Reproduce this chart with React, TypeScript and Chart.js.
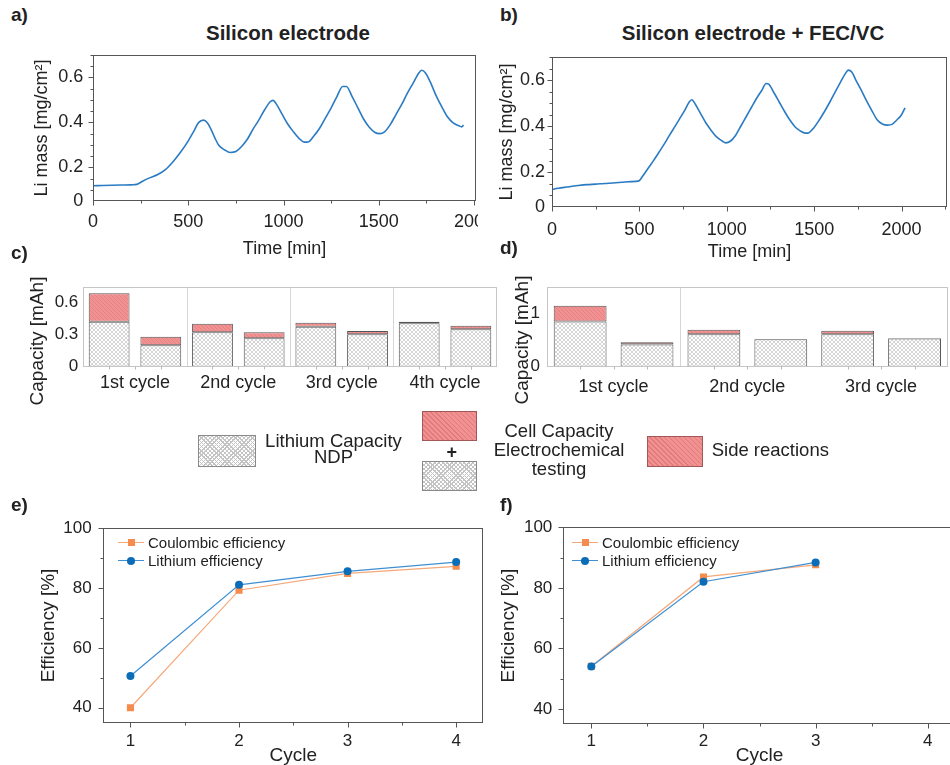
import React, { useEffect, useRef } from "react";
import { Chart, registerables } from "chart.js";

Chart.register(...registerables);

const FONT = "'Liberation Sans', Arial, Helvetica, sans-serif";
Chart.defaults.font.family = FONT;
Chart.defaults.color = "#222";

// ---------------- data ----------------
// a) Silicon electrode: Li mass vs time
const timeA = [
  0, 50, 100, 150, 200, 230, 260, 300, 340, 380,
  420, 460, 500, 530, 555, 580, 600, 620, 640, 660,
  690, 720, 750, 780, 810, 840, 870, 900, 930, 945,
  965, 990, 1020, 1050, 1080, 1110, 1130, 1160, 1190, 1220,
  1250, 1280, 1310, 1330, 1360, 1390, 1420, 1450, 1480, 1505,
  1530, 1560, 1590, 1620, 1650, 1680, 1710, 1725, 1745, 1770,
  1800, 1830, 1860, 1890, 1920, 1935, 1945,
];
const liMassA = [
  0.118, 0.119, 0.12, 0.121, 0.122, 0.124, 0.138, 0.154, 0.168, 0.19,
  0.225, 0.268, 0.318, 0.362, 0.4, 0.41, 0.398, 0.368, 0.33, 0.298,
  0.278, 0.266, 0.27, 0.293, 0.325, 0.37, 0.41, 0.455, 0.492, 0.498,
  0.478, 0.44, 0.395, 0.36, 0.33, 0.312, 0.313, 0.34, 0.375, 0.42,
  0.465, 0.515, 0.56, 0.56, 0.515, 0.465, 0.415, 0.378, 0.355, 0.35,
  0.358, 0.39, 0.435, 0.48, 0.53, 0.575, 0.62, 0.632, 0.62, 0.58,
  0.52, 0.47, 0.425, 0.398, 0.385, 0.38, 0.388,
];

// b) Silicon electrode + FEC/VC
const timeB = [
  0, 25, 60, 100, 150, 200, 250, 300, 350, 400,
  450, 495, 520, 550, 580, 610, 640, 670, 700, 730,
  760, 785, 800, 820, 850, 880, 910, 940, 970, 995,
  1020, 1050, 1080, 1110, 1140, 1170, 1200, 1225, 1240, 1270,
  1300, 1330, 1360, 1390, 1420, 1450, 1470, 1500, 1530, 1560,
  1590, 1620, 1650, 1680, 1695, 1715, 1740, 1770, 1800, 1830,
  1860, 1890, 1920, 1945, 1970, 2000, 2020,
];
const liMassB = [
  0.125, 0.13, 0.134, 0.138, 0.143, 0.147, 0.149, 0.152, 0.154, 0.157,
  0.16, 0.162, 0.185, 0.218, 0.25, 0.285, 0.32, 0.358, 0.395, 0.432,
  0.47, 0.505, 0.515, 0.495, 0.455, 0.415, 0.383, 0.355, 0.338, 0.328,
  0.335, 0.36, 0.4, 0.44, 0.48, 0.52, 0.555, 0.585, 0.582, 0.545,
  0.505, 0.465, 0.428, 0.398, 0.38, 0.37, 0.372, 0.395, 0.428, 0.465,
  0.505, 0.548, 0.59, 0.63, 0.643, 0.635, 0.598, 0.555, 0.51, 0.468,
  0.428, 0.41, 0.405, 0.408, 0.425, 0.45, 0.48,
];
const massTicks = [0.05, 0.2, 0.4, 0.6]; // 0.05 is the axis bottom, labelled "0"
const massMinor = [0.1, 0.15, 0.25, 0.3, 0.35, 0.45, 0.5, 0.55, 0.65, 0.7];
const timeTicks = [0, 500, 1000, 1500, 2000];
const timeMinor = [250, 750, 1250, 1750, 2250];

// c) capacities, Silicon electrode
const cycleLabelsC = ["1st cycle", "2nd cycle", "3rd cycle", "4th cycle"];
const liCapLithC = [0.42, 0.32, 0.373, 0.405];
const cellCapLithC = [0.685, 0.4, 0.41, 0.42];
const liCapDelithC = [0.2, 0.265, 0.302, 0.348];
const cellCapDelithC = [0.28, 0.32, 0.333, 0.382];
const capTicksC = [0, 0.3, 0.6];

// d) capacities, Silicon electrode + FEC/VC
const cycleLabelsD = ["1st cycle", "2nd cycle", "3rd cycle"];
const liCapLithD = [0.855, 0.615, 0.615];
const cellCapLithD = [1.15, 0.7, 0.677];
const liCapDelithD = [0.42, 0.52, 0.535];
const cellCapDelithD = [0.46, 0.525, 0.54];
const capTicksD = [0, 1];

// e) / f) efficiencies
const cyclesE = [1, 2, 3, 4];
const coulombicE = [40, 79.3, 84.9, 87.3];
const lithiumE = [50.6, 81.1, 85.6, 88.7];
const cyclesF = [1, 2, 3];
const coulombicF = [54.1, 83.6, 87.6];
const lithiumF = [54.0, 82.0, 88.4];
const effTicks = [40, 60, 80, 100];
const effMinor = [50, 70, 90];
const cycleTicks = [1, 2, 3, 4];
const cycleMinor = [1.5, 2.5, 3.5];

const legendEff = ["Coulombic efficiency", "Lithium efficiency"];

// ---------------- colours ----------------
const TRACE = "#2a7bc3";
const ORANGE_LINE = "#f5a878";
const ORANGE_PT = "#f58b4c";
const BLUE_LINE = "#3f8fd2";
const BLUE_PT = "#0b6cb8";
const AXIS = "#555";

// ---------------- helpers ----------------
function makeGrayPattern(): CanvasPattern | string {
  const c = document.createElement("canvas");
  c.width = 4;
  c.height = 4;
  const g = c.getContext("2d")!;
  g.fillStyle = "#ffffff";
  g.fillRect(0, 0, 4, 4);
  g.strokeStyle = "#c2c2c2";
  g.lineWidth = 0.7;
  g.beginPath();
  g.moveTo(0, 0);
  g.lineTo(4, 4);
  g.moveTo(0, 4);
  g.lineTo(4, 0);
  g.stroke();
  return g.createPattern(c, "repeat") || "#e5e5e5";
}

function makeRedPattern(): CanvasPattern | string {
  const c = document.createElement("canvas");
  c.width = 4;
  c.height = 4;
  const g = c.getContext("2d")!;
  g.fillStyle = "#f29191";
  g.fillRect(0, 0, 4, 4);
  g.strokeStyle = "#e07b7b";
  g.lineWidth = 0.7;
  g.beginPath();
  g.moveTo(0, 0);
  g.lineTo(4, 4);
  g.moveTo(-1, 3);
  g.lineTo(1, 5);
  g.moveTo(3, -1);
  g.lineTo(5, 1);
  g.stroke();
  return g.createPattern(c, "repeat") || "#f29191";
}

const fixW = (w: number) => (scale: any) => {
  scale.width = w;
  scale.paddingLeft = scale.paddingRight = scale.paddingTop = scale.paddingBottom = 0;
};
const fixH = (h: number) => (scale: any) => {
  scale.height = h;
  scale.paddingLeft = scale.paddingRight = scale.paddingTop = scale.paddingBottom = 0;
};
const setTicks = (vals: number[]) => (scale: any) => {
  scale.ticks = vals.map((v) => ({ value: v }));
};
const NO_GRID = { display: false, drawTicks: false, tickLength: 0 };

type FrameCfg = {
  color: string;
  xMajor?: number[];
  xMinor?: number[];
  yMajor?: number[];
  yMinor?: number[];
  majorLen?: number;
  minorLen?: number;
  separators?: number[];
  sepColor?: string;
  barTicks?: boolean;
};

function framePlugin(cfg: FrameCfg) {
  return {
    id: "frame",
    beforeDatasetsDraw(chart: any) {
      if (!cfg.separators) return;
      const { ctx, chartArea: a } = chart;
      const xs = chart.scales.x;
      ctx.save();
      ctx.strokeStyle = cfg.sepColor || "#ddd";
      ctx.lineWidth = 1;
      for (const i of cfg.separators) {
        const px = Math.round((xs.getPixelForValue(i) + xs.getPixelForValue(i + 1)) / 2) + 0.5;
        ctx.beginPath();
        ctx.moveTo(px, a.top);
        ctx.lineTo(px, a.bottom);
        ctx.stroke();
      }
      ctx.restore();
    },
    afterDraw(chart: any) {
      const { ctx, chartArea: a } = chart;
      const xs = chart.scales.x;
      const ys = chart.scales.y;
      const L = Math.round(a.left) + 0.5;
      const R = Math.round(a.right) - 0.5;
      const T = Math.round(a.top) + 0.5;
      const B = Math.round(a.bottom) - 0.5;
      ctx.save();
      ctx.lineWidth = 1;
      ctx.strokeStyle = cfg.color;
      ctx.strokeRect(L, T, R - L, B - T);
      const maj = cfg.majorLen ?? 5;
      const min = cfg.minorLen ?? 3;
      const xt = (vals: number[] | undefined, len: number) => {
        (vals || []).forEach((v) => {
          const p = Math.round(xs.getPixelForValue(v)) + 0.5;
          ctx.beginPath();
          ctx.moveTo(p, B);
          ctx.lineTo(p, B + len);
          ctx.stroke();
        });
      };
      const yt = (vals: number[] | undefined, len: number) => {
        (vals || []).forEach((v) => {
          const p = Math.round(ys.getPixelForValue(v)) + 0.5;
          ctx.beginPath();
          ctx.moveTo(L, p);
          ctx.lineTo(L - len, p);
          ctx.stroke();
        });
      };
      xt(cfg.xMajor, maj);
      xt(cfg.xMinor, min);
      yt(cfg.yMajor, maj);
      yt(cfg.yMinor, min);
      if (cfg.barTicks) {
        ctx.strokeStyle = "#b8b8b8";
        const xsPix: number[] = [];
        [0, 2].forEach((k) => {
          chart.getDatasetMeta(k).data.forEach((el: any) => xsPix.push(el.x));
        });
        xs.ticks.forEach((_t: any, i: number) => xsPix.push(xs.getPixelForValue(i)));
        xsPix.forEach((x) => {
          const p = Math.round(x) + 0.5;
          ctx.beginPath();
          ctx.moveTo(p, B);
          ctx.lineTo(p, B + 3);
          ctx.stroke();
        });
      }
      ctx.restore();
    },
  };
}

function ChartBox(props: { left: number; top: number; width: number; height: number; build: () => any }) {
  const ref = useRef<HTMLCanvasElement>(null);
  useEffect(() => {
    const chart = new Chart(ref.current as HTMLCanvasElement, props.build());
    return () => chart.destroy();
  }, []);
  return (
    <canvas
      ref={ref}
      width={props.width}
      height={props.height}
      style={{ position: "absolute", left: props.left, top: props.top, width: props.width, height: props.height }}
    />
  );
}

const baseOptions = (padding: any) => ({
  responsive: false,
  animation: false as const,
  layout: { padding, autoPadding: false },
  plugins: { legend: { display: false }, tooltip: { enabled: false } },
});

// ---------------- chart builders ----------------
function massChart(
  times: number[],
  values: number[],
  xMax: number,
  dims: { pad: any; yW: number; xH: number; yPad: number; yTitlePad: number; xPad: number }
) {
  return () => ({
    type: "line",
    data: {
      datasets: [
        {
          data: times.map((t, i) => ({ x: t, y: values[i] })),
          borderColor: TRACE,
          borderWidth: 1.6,
          pointRadius: 0,
          cubicInterpolationMode: "monotone",
          fill: false,
        },
      ],
    },
    options: {
      ...baseOptions(dims.pad),
      scales: {
        x: {
          type: "linear",
          min: 0,
          max: xMax,
          afterBuildTicks: setTicks(timeTicks),
          afterFit: fixH(dims.xH),
          grid: NO_GRID,
          border: { display: false },
          ticks: { font: { size: 18 }, color: "#222", padding: dims.xPad, maxRotation: 0, callback: (v: number) => String(v) },
          title: { display: true, text: "Time [min]", font: { size: 18 }, color: "#222", padding: { top: 0, bottom: 0 } },
        },
        y: {
          type: "linear",
          min: 0.05,
          max: 0.7,
          afterBuildTicks: setTicks(massTicks),
          afterFit: fixW(dims.yW),
          grid: NO_GRID,
          border: { display: false },
          ticks: {
            font: { size: 18 },
            color: "#222",
            padding: dims.yPad,
            callback: (v: number) => (v < 0.1 ? "0" : v.toFixed(1)),
          },
          title: {
            display: true,
            text: "Li mass [mg/cm²]",
            font: { size: 18 },
            color: "#222",
            padding: { top: dims.yTitlePad, bottom: 0 },
          },
        },
      },
    },
    plugins: [
      framePlugin({ color: AXIS, xMajor: timeTicks, xMinor: timeMinor, yMajor: massTicks.slice(1), yMinor: massMinor, majorLen: 5, minorLen: 3 }),
    ],
  });
}

function capChart(
  labels: string[],
  liL: number[],
  cellL: number[],
  liD: number[],
  cellD: number[],
  yMax: number,
  yTicks: number[],
  separators: number[],
  dims: { pad: any; yW: number; xH: number; yPad: number; xPad: number }
) {
  return () => {
    const gray = makeGrayPattern();
    const red = makeRedPattern();
    const common = { borderColor: "#555", borderWidth: 1, borderSkipped: false, barPercentage: 0.79, categoryPercentage: 1 };
    return {
      type: "bar",
      data: {
        labels,
        datasets: [
          { label: "Lithium Capacity NDP", data: liL, stack: "lith", backgroundColor: gray, ...common },
          { label: "Side reactions", data: cellL.map((v, i) => v - liL[i]), stack: "lith", backgroundColor: red, ...common },
          { label: "Lithium Capacity NDP", data: liD, stack: "delith", backgroundColor: gray, ...common },
          { label: "Side reactions", data: cellD.map((v, i) => v - liD[i]), stack: "delith", backgroundColor: red, ...common },
        ],
      },
      options: {
        ...baseOptions(dims.pad),
        scales: {
          x: {
            stacked: true,
            afterFit: fixH(dims.xH),
            grid: NO_GRID,
            border: { display: false },
            ticks: { font: { size: 18 }, color: "#222", padding: dims.xPad, maxRotation: 0, autoSkip: false },
          },
          y: {
            stacked: true,
            min: 0,
            max: yMax,
            afterBuildTicks: setTicks(yTicks),
            afterFit: fixW(dims.yW),
            grid: NO_GRID,
            border: { display: false },
            ticks: { font: { size: 17 }, color: "#222", padding: dims.yPad, callback: (v: number) => (v === 0 ? "0" : String(v)) },
          },
        },
      },
      plugins: [framePlugin({ color: "#c6c6c6", separators, sepColor: "#d6d6d6", barTicks: true })],
    };
  };
}

function effChart(
  cycles: number[],
  coul: number[],
  li: number[],
  dims: { pad: any; yW: number; xH: number; yPad: number; yTitlePad: number; xPad: number }
) {
  return () => ({
    type: "line",
    data: {
      datasets: [
        {
          label: legendEff[1],
          data: cycles.map((c, i) => ({ x: c, y: li[i] })),
          borderColor: BLUE_LINE,
          borderWidth: 1.2,
          pointStyle: "circle",
          pointRadius: 4,
          pointBackgroundColor: BLUE_PT,
          pointBorderColor: BLUE_PT,
          pointBorderWidth: 0,
        },
        {
          label: legendEff[0],
          data: cycles.map((c, i) => ({ x: c, y: coul[i] })),
          borderColor: ORANGE_LINE,
          borderWidth: 1.2,
          pointStyle: "rect",
          pointRadius: 5,
          pointBackgroundColor: ORANGE_PT,
          pointBorderColor: ORANGE_PT,
          pointBorderWidth: 0,
        },
      ],
    },
    options: {
      ...baseOptions(dims.pad),
      scales: {
        x: {
          type: "linear",
          min: 0.75,
          max: 4.25,
          afterBuildTicks: setTicks(cycleTicks),
          afterFit: fixH(dims.xH),
          grid: NO_GRID,
          border: { display: false },
          ticks: { font: { size: 17 }, color: "#222", padding: dims.xPad, callback: (v: number) => String(v) },
          title: { display: true, text: "Cycle", font: { size: 19, lineHeight: 1 }, color: "#222", padding: { top: 0, bottom: 0 } },
        },
        y: {
          type: "linear",
          min: 35,
          max: 100,
          afterBuildTicks: setTicks(effTicks),
          afterFit: fixW(dims.yW),
          grid: NO_GRID,
          border: { display: false },
          ticks: { font: { size: 17 }, color: "#222", padding: dims.yPad, callback: (v: number) => String(v) },
          title: {
            display: true,
            text: "Efficiency [%]",
            font: { size: 19 },
            color: "#222",
            padding: { top: dims.yTitlePad, bottom: 0 },
          },
        },
      },
    },
    plugins: [framePlugin({ color: AXIS, xMajor: cycleTicks, xMinor: cycleMinor, yMajor: effTicks, yMinor: effMinor, majorLen: 5, minorLen: 3 })],
  });
}

// ---------------- HTML bits ----------------
const abs = (left: number, top: number, extra: any = {}) => ({ position: "absolute" as const, left, top, ...extra });

function PanelLetter({ x, cy, text }: { x: number; cy: number; text: string }) {
  return <div style={abs(x, cy - 11, { fontSize: 19, fontWeight: "bold", lineHeight: "22px" })}>{text}</div>;
}

function Title({ cx, cy, text }: { cx: number; cy: number; text: string }) {
  return (
    <div style={abs(cx, cy, { transform: "translate(-50%,-50%)", fontSize: 20.5, fontWeight: "bold", whiteSpace: "nowrap", lineHeight: "24px" })}>
      {text}
    </div>
  );
}

function VTitle({ cx, cy, text, size }: { cx: number; cy: number; text: string; size: number }) {
  return (
    <div style={abs(cx, cy, { transform: "translate(-50%,-50%) rotate(-90deg)", fontSize: size, whiteSpace: "nowrap", lineHeight: "22px" })}>
      {text}
    </div>
  );
}

const grayCss = {
  backgroundColor: "#fff",
  backgroundImage:
    "repeating-linear-gradient(45deg, #c4c4c4 0 1px, transparent 1px 3px), repeating-linear-gradient(-45deg, #c4c4c4 0 1px, transparent 1px 3px)",
  border: "1px solid #8a8a8a",
  boxSizing: "border-box" as const,
};
const redCss = {
  backgroundColor: "#f29191",
  backgroundImage: "repeating-linear-gradient(45deg, #e07b7b 0 1px, transparent 1px 3.5px)",
  border: "1px solid #a05858",
  boxSizing: "border-box" as const,
};

function EffLegend({ lineLeft, textLeft, y1, y2 }: { lineLeft: number; textLeft: number; y1: number; y2: number }) {
  const lw = 26;
  const rows = [
    { cy: y1, line: ORANGE_LINE, pt: ORANGE_PT, round: false, text: legendEff[0] },
    { cy: y2, line: BLUE_LINE, pt: BLUE_PT, round: true, text: legendEff[1] },
  ];
  return (
    <>
      {rows.map((r, i) => (
        <React.Fragment key={i}>
          <div style={abs(lineLeft, r.cy - 0.5, { width: lw, height: 1, background: r.line })} />
          <div
            style={abs(lineLeft + lw / 2 - (r.round ? 4 : 3.5), r.cy - (r.round ? 4 : 3.5), {
              width: r.round ? 8 : 7,
              height: r.round ? 8 : 7,
              background: r.pt,
              borderRadius: r.round ? "50%" : 0,
            })}
          />
          <div style={abs(textLeft, r.cy - 9, { fontSize: 15, lineHeight: "18px", whiteSpace: "nowrap" })}>{r.text}</div>
        </React.Fragment>
      ))}
    </>
  );
}

export default function App() {
  return (
    <div
      style={{
        position: "absolute",
        left: 0,
        top: 0,
        width: 950,
        height: 765,
        overflow: "hidden",
        background: "#fff",
        fontFamily: FONT,
        color: "#222",
      }}
    >
      {/* a */}
      <ChartBox
        left={0}
        top={45}
        width={478}
        height={215}
        build={massChart(timeA, liMassA, 2010, { pad: { top: 10, right: 2, left: 0, bottom: 0 }, yW: 93, xH: 59, yPad: 9.7, yTitlePad: 31.5, xPad: 9.9 })}
      />
      {/* b */}
      <ChartBox
        left={478}
        top={45}
        width={472}
        height={218}
        build={massChart(timeB, liMassB, 2260, { pad: { top: 12, right: 3, left: 0, bottom: 0 }, yW: 74, xH: 56, yPad: 7, yTitlePad: 17.9, xPad: 12.2 })}
      />
      {/* c */}
      <ChartBox
        left={0}
        top={280}
        width={500}
        height={120}
        build={capChart(cycleLabelsC, liCapLithC, cellCapLithC, liCapDelithC, cellCapDelithC, 0.74, capTicksC, [0, 1, 2], {
          pad: { top: 7.3, right: 3.3, left: 0, bottom: 0 },
          yW: 83.3,
          xH: 33.3,
          yPad: 5,
          xPad: 6,
        })}
      />
      {/* d */}
      <ChartBox
        left={500}
        top={280}
        width={450}
        height={120}
        build={capChart(cycleLabelsD, liCapLithD, cellCapLithD, liCapDelithD, cellCapDelithD, 1.5, capTicksD, [0], {
          pad: { top: 7.3, right: 2, left: 0, bottom: 0 },
          yW: 46.7,
          xH: 33.3,
          yPad: 6.7,
          xPad: 9.2,
        })}
      />
      {/* e */}
      <ChartBox
        left={0}
        top={515}
        width={490}
        height={250}
        build={effChart(cyclesE, coulombicE, lithiumE, { pad: { top: 13.3, right: 6.7, left: 0, bottom: 0 }, yW: 103.3, xH: 42.3, yPad: 11.6, yTitlePad: 36.9, xPad: 8.8 })}
      />
      {/* f */}
      <ChartBox
        left={490}
        top={515}
        width={470}
        height={250}
        build={effChart(cyclesF, coulombicF, lithiumF, { pad: { top: 12.3, right: 4.2, left: 0, bottom: 0 }, yW: 73.3, xH: 41, yPad: 11, yTitlePad: 6.9, xPad: 7.5 })}
      />

      {/* panel letters and titles */}
      <PanelLetter x={11} cy={15} text="a)" />
      <PanelLetter x={500} cy={15} text="b)" />
      <PanelLetter x={11} cy={253} text="c)" />
      <PanelLetter x={500} cy={248} text="d)" />
      <PanelLetter x={11} cy={505} text="e)" />
      <PanelLetter x={500} cy={505} text="f)" />
      <Title cx={288} cy={33} text="Silicon electrode" />
      <Title cx={753} cy={33} text="Silicon electrode + FEC/VC" />

      <VTitle cx={36.7} cy={340.8} text="Capacity [mAh]" size={19} />
      <VTitle cx={521.7} cy={340} text="Capacity [mAh]" size={19} />

      {/* capacity legend */}
      <div style={abs(198.3, 435, { width: 57.7, height: 31.7, ...grayCss })} />
      <div style={abs(263, 432.5, { width: 141, textAlign: "center", fontSize: 18.5, lineHeight: "16px", whiteSpace: "nowrap" })}>
        Lithium Capacity
        <br />
        NDP
      </div>
      <div style={abs(421.7, 410.5, { width: 55, height: 30, ...redCss })} />
      <div style={abs(441.7, 441.5, { width: 20, textAlign: "center", fontSize: 18, fontWeight: "bold", lineHeight: "20px" })}>+</div>
      <div style={abs(421.7, 460.5, { width: 55, height: 30, ...grayCss })} />
      <div style={abs(484, 420.5, { width: 150, textAlign: "center", fontSize: 18.5, lineHeight: "19px", whiteSpace: "nowrap" })}>
        Cell Capacity
        <br />
        Electrochemical
        <br />
        testing
      </div>
      <div style={abs(646.7, 435.7, { width: 56, height: 31, ...redCss })} />
      <div style={abs(711.7, 439, { fontSize: 18.5, lineHeight: "22px", whiteSpace: "nowrap" })}>Side reactions</div>

      <EffLegend lineLeft={118} textLeft={148} y1={542.7} y2={560.7} />
      <EffLegend lineLeft={572} textLeft={602} y1={542.7} y2={560.7} />
    </div>
  );
}
